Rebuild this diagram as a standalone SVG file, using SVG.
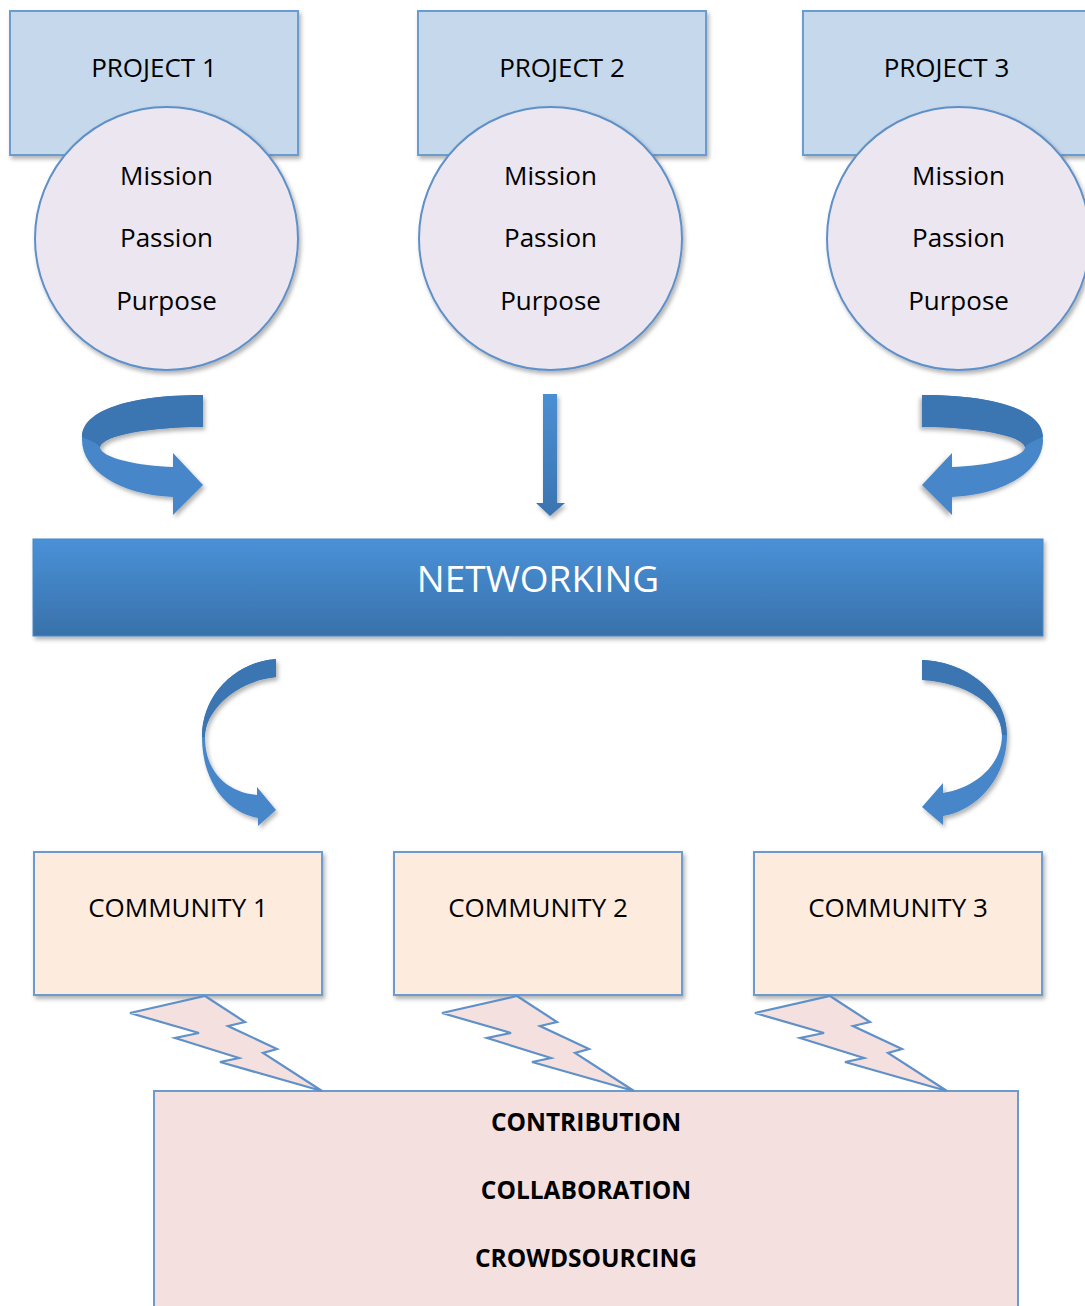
<svg xmlns="http://www.w3.org/2000/svg" width="1085" height="1306" viewBox="0 0 1085 1306">
<defs>
<filter id="sh" x="-10%" y="-10%" width="125%" height="130%">
<feDropShadow dx="2" dy="3" stdDeviation="2.2" flood-color="#000" flood-opacity="0.3"/>
</filter>
<linearGradient id="netg" x1="0" y1="0" x2="0" y2="1">
<stop offset="0" stop-color="#4a91d8"/>
<stop offset="1" stop-color="#3871aa"/>
</linearGradient>
<linearGradient id="downg" x1="0" y1="0" x2="0" y2="1">
<stop offset="0" stop-color="#4a8fd4"/>
<stop offset="1" stop-color="#3a74b0"/>
</linearGradient>
<style>
.proj{fill:#c5d8ec;stroke:#6c9bd0;stroke-width:2}
.circ{fill:#ebe6f0;stroke:#5f90c8;stroke-width:2}
.comm{fill:#fdebde;stroke:#6c9bd0;stroke-width:2}
.base{fill:#f3e0df;stroke:#6c9bd0;stroke-width:2}
.bolt{fill:#f3e0df;stroke:#5f90c8;stroke-width:2.2;stroke-linejoin:miter}
.lbl{font-family:"Open Sans","Liberation Sans",sans-serif;font-size:26px;fill:#000;text-anchor:middle}
.bold{font-family:"Open Sans","Liberation Sans",sans-serif;font-size:24.5px;font-weight:bold;fill:#000;text-anchor:middle}
.net{font-family:"Open Sans","Liberation Sans",sans-serif;font-size:37px;fill:#fff;text-anchor:middle}
.arrA{fill:#4686c8}
.arrB{fill:#3a74b2}
</style>
</defs>
<rect width="1085" height="1306" fill="#fff"/>

<g id="project1">
<rect class="proj" x="10" y="11" width="288" height="144" filter="url(#sh)"/>
<text class="lbl" x="154" y="77">PROJECT 1</text>
<circle class="circ" cx="166.5" cy="238.5" r="131.5" filter="url(#sh)"/>
<text class="lbl" x="166.5" y="185">Mission</text>
<text class="lbl" x="166.5" y="247">Passion</text>
<text class="lbl" x="166.5" y="310">Purpose</text>
</g>

<g id="project2">
<rect class="proj" x="418" y="11" width="288" height="144" filter="url(#sh)"/>
<text class="lbl" x="562" y="77">PROJECT 2</text>
<circle class="circ" cx="550.5" cy="238.5" r="131.5" filter="url(#sh)"/>
<text class="lbl" x="550.5" y="185">Mission</text>
<text class="lbl" x="550.5" y="247">Passion</text>
<text class="lbl" x="550.5" y="310">Purpose</text>
</g>

<g id="project3">
<rect class="proj" x="803" y="11" width="288" height="144" filter="url(#sh)"/>
<text class="lbl" x="946.5" y="77">PROJECT 3</text>
<circle class="circ" cx="958.5" cy="238.5" r="131.5" filter="url(#sh)"/>
<text class="lbl" x="958.5" y="185">Mission</text>
<text class="lbl" x="958.5" y="247">Passion</text>
<text class="lbl" x="958.5" y="310">Purpose</text>
</g>

<g id="networking">
<rect x="33" y="539" width="1010" height="97" fill="url(#netg)" stroke="#4a86c4" stroke-width="1" filter="url(#sh)"/>
<text class="net" x="538" y="592">NETWORKING</text>
</g>

<g id="community1">
<rect class="comm" x="34" y="852" width="288" height="143" filter="url(#sh)"/>
<text class="lbl" x="178" y="917">COMMUNITY 1</text>
</g>
<g id="community2">
<rect class="comm" x="394" y="852" width="288" height="143" filter="url(#sh)"/>
<text class="lbl" x="538" y="917">COMMUNITY 2</text>
</g>
<g id="community3">
<rect class="comm" x="754" y="852" width="288" height="143" filter="url(#sh)"/>
<text class="lbl" x="898" y="917">COMMUNITY 3</text>
</g>

<g id="outcomes">
<rect class="base" x="154" y="1091" width="864" height="240"/>
<text class="bold" x="586" y="1131">CONTRIBUTION</text>
<text class="bold" x="586" y="1199">COLLABORATION</text>
<text class="bold" x="586" y="1267">CROWDSOURCING</text>
</g>

<g id="connectors">
<g id="arrow-p1" filter="url(#sh)">
<path class="arrA" d="M203,395 L203,427 C150,427 103,435 100,447 C100,458 140,466 173,467 L173,453 L203,485 L173,515 L173,497 C120,495 82,470 82,440 C82,410 130,395 203,395 Z"/>
<path class="arrB" d="M203,395 C130,395 82,410 82,437 C90,440 97,443 100,447 C103,435 150,427 203,427 Z"/>
</g>
<g id="arrow-p3" filter="url(#sh)" transform="translate(1125,0) scale(-1,1)">
<path class="arrA" d="M203,395 L203,427 C150,427 103,435 100,447 C100,458 140,466 173,467 L173,453 L203,485 L173,515 L173,497 C120,495 82,470 82,440 C82,410 130,395 203,395 Z"/>
<path class="arrB" d="M203,395 C130,395 82,410 82,437 C90,440 97,443 100,447 C103,435 150,427 203,427 Z"/>
</g>
<path id="arrow-p2" d="M543,394 L557,394 L557,503 L565,503 L550,516 L536,503 L543,503 Z" fill="url(#downg)" filter="url(#sh)"/>
<g id="arrow-c1" filter="url(#sh)">
<path class="arrA" d="M276,659 L276,677 C240,680 205,708 205,737 C205,770 225,792 257,795 L257,787 L276,810 L258,826 L258,818 C225,812 202,780 202,737 C202,695 235,662 276,659 Z"/>
<path class="arrB" d="M276,659 C235,662 202,695 202,737 L205,737 C205,708 240,680 276,677 Z"/>
</g>
<g id="arrow-c3" filter="url(#sh)">
<path class="arrA" d="M922,660 L922,680 C965,682 1002,705 1002,735 C1002,765 975,788 943,793 L943,783 L922,807 L943,825 L943,816 C975,811 1007,780 1007,735 C1007,695 970,662 922,660 Z"/>
<path class="arrB" d="M922,660 C970,662 1007,695 1007,735 L1002,735 C1002,705 965,682 922,680 Z"/>
</g>
<polygon class="bolt" points="205,996 245,1022 228,1026 277,1049 263,1053 322,1091 220,1062 239,1058 175,1038 199,1033 130,1013"/>
<polygon class="bolt" transform="translate(312,0)" points="205,996 245,1022 228,1026 277,1049 263,1053 322,1091 220,1062 239,1058 175,1038 199,1033 130,1013"/>
<polygon class="bolt" transform="translate(625,0)" points="205,996 245,1022 228,1026 277,1049 263,1053 322,1091 220,1062 239,1058 175,1038 199,1033 130,1013"/>
</g>
</svg>
